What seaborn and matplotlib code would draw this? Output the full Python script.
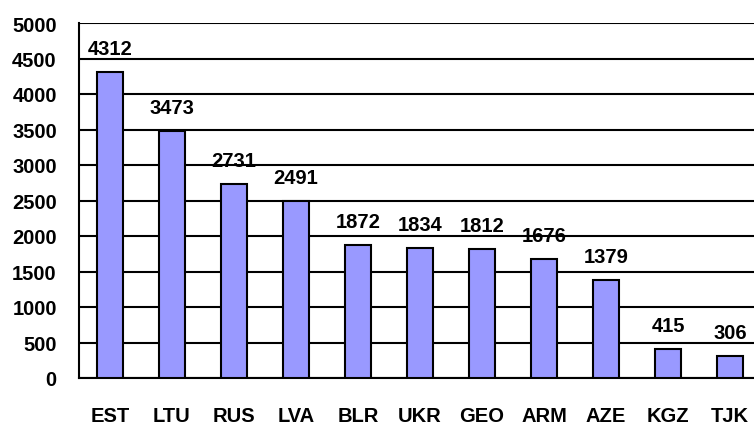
import numpy as np
import pandas as pd
import seaborn as sns
import matplotlib.pyplot as plt

countries = ['EST', 'LTU', 'RUS', 'LVA', 'BLR', 'UKR', 'GEO', 'ARM', 'AZE', 'KGZ', 'TJK']
values = [4312, 3473, 2731, 2491, 1872, 1834, 1812, 1676, 1379, 415, 306]
yticks = [0, 500, 1000, 1500, 2000, 2500, 3000, 3500, 4000, 4500, 5000]

df = pd.DataFrame({'country': countries, 'value': values})

sns.set_style("white")
plt.rcParams['font.family'] = ['Liberation Sans', 'DejaVu Sans']
plt.rcParams['font.weight'] = 'bold'
plt.rcParams['text.color'] = 'black'
plt.rcParams['xtick.color'] = 'black'
plt.rcParams['ytick.color'] = 'black'

fig = plt.figure(figsize=(7.54, 4.27), dpi=100)
ax = fig.add_axes([79/754, 1 - 379/427, 682/754, 355/427])

sns.barplot(x='country', y='value', data=df, color='#9999FF', saturation=1,
            width=0.42, edgecolor='black', linewidth=1.5, ax=ax, zorder=3)

ax.set_ylim(0, 5000)
ax.set_xlim(-0.5, len(countries) - 0.5)
ax.set_yticks(yticks)
ax.set_yticklabels([str(t) for t in yticks], fontsize=14.5, fontweight='bold', color='black')
ax.yaxis.grid(True, color='black', linewidth=1.5, zorder=2)
ax.set_axisbelow(False)

# ticks between categories on the x axis, labels at centres
ax.set_xticks(np.arange(len(countries) + 1) - 0.5)
ax.set_xticklabels([])
ax.set_xticks(np.arange(len(countries)), minor=True)
ax.set_xticklabels(countries, minor=True, fontsize=14.5, fontweight='bold', color='black')
ax.tick_params(axis='x', which='major', direction='out', length=6, width=1.5, color='black')
ax.tick_params(axis='x', which='minor', length=0, pad=20)
ax.tick_params(axis='y', direction='out', length=6, width=1.5, color='black', pad=10)
ax.set_xlabel('')
ax.set_ylabel('')

for s in ['top', 'right']:
    ax.spines[s].set_visible(False)
for s in ['left', 'bottom']:
    ax.spines[s].set_color('black')
    ax.spines[s].set_linewidth(1.5)

for i, v in enumerate(values):
    ax.annotate(str(v), (i, v), xytext=(0, 14), textcoords='offset pixels',
                ha='center', va='bottom', fontsize=14.5, fontweight='bold',
                color='black', zorder=1)

fig.savefig('out.png', dpi=100)
